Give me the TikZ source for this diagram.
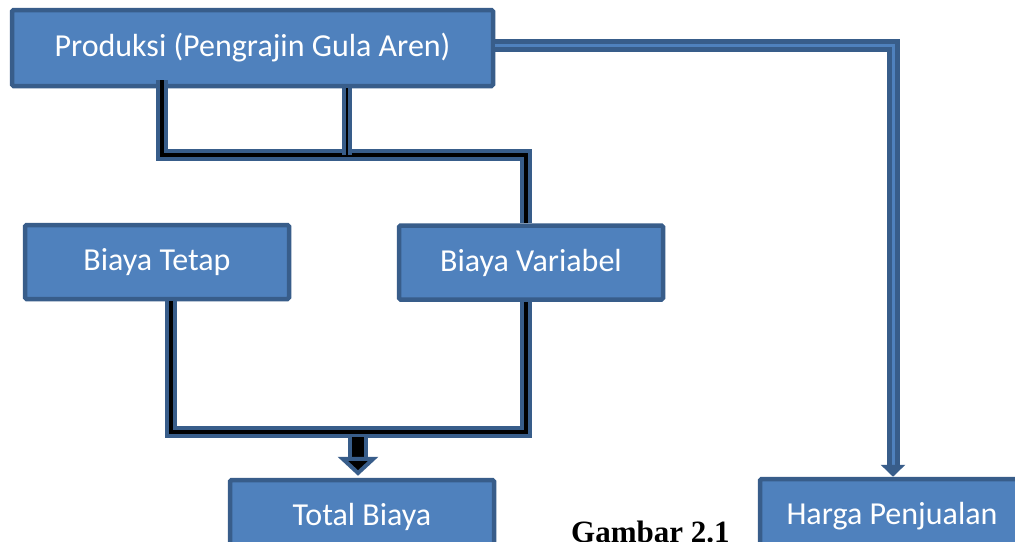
\documentclass[tikz,border=0pt]{standalone}
\usepackage{fontspec}
\newfontfamily\boxfont{Carlito}
\newfontfamily\capfont{Liberation Serif}
\usepackage{tikz}
\usetikzlibrary{arrows.meta,positioning,calc}
\tikzset{>=Stealth}
\definecolor{boxblue}{HTML}{4F81BD}
\definecolor{edgeblue}{HTML}{385D8A}

\begin{document}
\begin{tikzpicture}[
    x=1pt, y=-1pt,
    box/.style={draw=edgeblue, line width=4.5pt, fill=boxblue, rounded corners=1.5pt,
                text=white, minimum width=264pt, minimum height=74pt, inner sep=0pt,
                font=\boxfont\fontsize{32}{38}\selectfont},
    link/.style={draw=edgeblue, line width=4pt, double=black, double distance=4pt},
    linkb/.style={draw=edgeblue, line width=5pt, double=boxblue, double distance=3pt},
    fat/.style={draw=edgeblue, line width=4pt, double=black, double distance=12pt}
  ]
    \clip (0,0) rectangle (1015,541);
    \fill[white] (0,0) rectangle (1015,541);

    \node[box, minimum width=481pt, minimum height=76pt] (prod) at (252.5,48) {Produksi (Pengrajin Gula Aren)};
    \node[box] (tetap)  at (157,262)   {Biaya Tetap};
    \node[box] (var)    at (531,262.5) {Biaya Variabel};
    \node[box] (total)  at (362,517)   {Total Biaya};
    \node[box] (harga)  at (892,516)   {Harga Penjualan};
    \node[font=\capfont\bfseries\fontsize{31}{36}\selectfont, anchor=base west, inner sep=0pt] (cap) at (571,542) {Gambar 2.1};

    % junctions
    \coordinate (jl) at (162,155);
    \coordinate (jm) at (347,155);
    \coordinate (jr) at (526,155);
    \coordinate (jh) at (893,45);
    \coordinate (bl) at (171,432);
    \coordinate (bm) at (358,432);
    \coordinate (br) at (526,432);

    \draw[link] ([yshift=8pt]prod.south -| jl) -- (jl) -- (jr) -- (var.north -| jr);
    \draw[link, double distance=2pt] (prod.south -| jm) -- (jm);
    \draw[linkb, -{Triangle[width=24pt, length=12pt]}] (prod.east |- jh) -- (jh) -- (harga.north -| jh);

    \draw[link] (tetap.south -| bl) -- (bl) -- (br) -- (var.south -| br);
    \draw[fat, -{Triangle[width=40pt, length=19pt, fill=black, line width=4pt]}] ([yshift=-5pt]bm) -- ([yshift=2pt]total.north -| bm);
\end{tikzpicture}
\end{document}
